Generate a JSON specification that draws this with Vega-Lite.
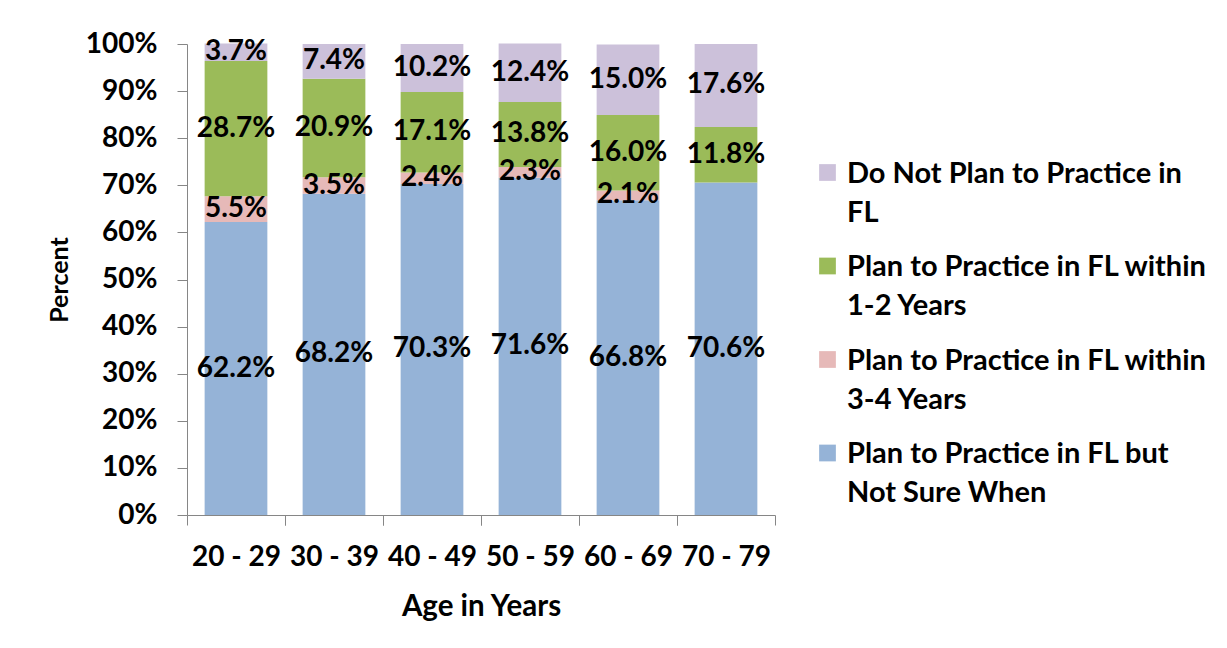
{
  "$schema": "https://vega.github.io/schema/vega-lite/v6.json",
  "autosize": {"type": "none"},
  "width": 588,
  "height": 471,
  "padding": {"left": 187, "top": 44, "right": 452, "bottom": 133},
  "background": "white",
  "data": {
    "values": [
      {"age": "20 - 29", "cat": "Plan to Practice in FL but Not Sure When", "pct": 62.2},
      {"age": "20 - 29", "cat": "Plan to Practice in FL within 3-4 Years", "pct": 5.5},
      {"age": "20 - 29", "cat": "Plan to Practice in FL within 1-2 Years", "pct": 28.7},
      {"age": "20 - 29", "cat": "Do Not Plan to Practice in FL", "pct": 3.7},
      {"age": "30 - 39", "cat": "Plan to Practice in FL but Not Sure When", "pct": 68.2},
      {"age": "30 - 39", "cat": "Plan to Practice in FL within 3-4 Years", "pct": 3.5},
      {"age": "30 - 39", "cat": "Plan to Practice in FL within 1-2 Years", "pct": 20.9},
      {"age": "30 - 39", "cat": "Do Not Plan to Practice in FL", "pct": 7.4},
      {"age": "40 - 49", "cat": "Plan to Practice in FL but Not Sure When", "pct": 70.3},
      {"age": "40 - 49", "cat": "Plan to Practice in FL within 3-4 Years", "pct": 2.4},
      {"age": "40 - 49", "cat": "Plan to Practice in FL within 1-2 Years", "pct": 17.1},
      {"age": "40 - 49", "cat": "Do Not Plan to Practice in FL", "pct": 10.2},
      {"age": "50 - 59", "cat": "Plan to Practice in FL but Not Sure When", "pct": 71.6},
      {"age": "50 - 59", "cat": "Plan to Practice in FL within 3-4 Years", "pct": 2.3},
      {"age": "50 - 59", "cat": "Plan to Practice in FL within 1-2 Years", "pct": 13.8},
      {"age": "50 - 59", "cat": "Do Not Plan to Practice in FL", "pct": 12.4},
      {"age": "60 - 69", "cat": "Plan to Practice in FL but Not Sure When", "pct": 66.8},
      {"age": "60 - 69", "cat": "Plan to Practice in FL within 3-4 Years", "pct": 2.1},
      {"age": "60 - 69", "cat": "Plan to Practice in FL within 1-2 Years", "pct": 16.0},
      {"age": "60 - 69", "cat": "Do Not Plan to Practice in FL", "pct": 15.0},
      {"age": "70 - 79", "cat": "Plan to Practice in FL but Not Sure When", "pct": 70.6},
      {"age": "70 - 79", "cat": "Plan to Practice in FL within 3-4 Years", "pct": 0},
      {"age": "70 - 79", "cat": "Plan to Practice in FL within 1-2 Years", "pct": 11.8},
      {"age": "70 - 79", "cat": "Do Not Plan to Practice in FL", "pct": 17.6}
    ]
  },
  "transform": [
    {"calculate": "indexof(['Plan to Practice in FL but Not Sure When', 'Plan to Practice in FL within 3-4 Years', 'Plan to Practice in FL within 1-2 Years', 'Do Not Plan to Practice in FL'], datum.cat)", "as": "k"},
    {"stack": "pct", "groupby": ["age"], "sort": [{"field": "k", "order": "ascending"}], "as": ["y0", "y1"]},
    {"calculate": "(datum.y0 + datum.y1) / 2", "as": "mid"},
    {"calculate": "format(datum.pct, '.1f') + '%'", "as": "lbl"}
  ],
  "layer": [
    {
      "mark": {"type": "bar"},
      "encoding": {
        "x": {
          "field": "age",
          "type": "nominal",
          "sort": null,
          "scale": {"paddingInner": 0.36, "paddingOuter": 0.18},
          "axis": {
            "orient": "bottom",
            "title": "Age in Years",
            "labelAngle": 0,
            "tickOffset": -49,
            "labelOffset": 49,
            "tickSize": 10,
            "tickColor": "#868686",
            "domainColor": "#868686",
            "labelPadding": 18,
            "labelFontSize": 28,
            "titleFontSize": 29.5,
            "titlePadding": 21
          }
        },
        "y": {
          "field": "y0",
          "type": "quantitative",
          "scale": {"domain": [0, 100], "nice": false},
          "axis": {
            "title": "Percent",
            "values": [0, 10, 20, 30, 40, 50, 60, 70, 80, 90, 100],
            "labelExpr": "datum.value + '%'",
            "grid": false,
            "tickSize": 10,
            "tickColor": "#868686",
            "domainColor": "#868686",
            "labelPadding": 20,
            "labelFontSize": 28,
            "titleFontSize": 25,
            "titlePadding": 13
          }
        },
        "y2": {"field": "y1"},
        "color": {
          "field": "cat",
          "type": "nominal",
          "scale": {
            "domain": ["Do Not Plan to Practice in FL", "Plan to Practice in FL within 1-2 Years", "Plan to Practice in FL within 3-4 Years", "Plan to Practice in FL but Not Sure When"],
            "range": ["#CCC1DA", "#9BBB59", "#E6B9B8", "#95B3D7"]
          },
          "legend": {
            "title": null,
            "orient": "none",
            "legendX": 626,
            "legendY": 114,
            "symbolType": "square",
            "symbolSize": 280,
            "symbolStrokeWidth": 0,
            "labelFontSize": 29,
            "labelOffset": 5,
            "labelLimit": 600,
            "labelBaseline": "alphabetic",
            "rowPadding": 23.5,
            "labelExpr": "datum.label == 'Do Not Plan to Practice in FL' ? ['Do Not Plan to Practice in', 'FL'] : datum.label == 'Plan to Practice in FL within 1-2 Years' ? ['Plan to Practice in FL within', '1-2 Years'] : datum.label == 'Plan to Practice in FL within 3-4 Years' ? ['Plan to Practice in FL within', '3-4 Years'] : ['Plan to Practice in FL but', 'Not Sure When']",
            "encode": {"labels": {"update": {"dy": {"value": 10}}}}
          }
        }
      }
    },
    {
      "transform": [{"filter": "datum.pct > 0"}],
      "mark": {"type": "text", "font": "Lato", "fontWeight": "bold", "fontSize": 28, "color": "black"},
      "encoding": {
        "x": {
          "field": "age",
          "type": "nominal",
          "sort": null,
          "axis": {
            "orient": "bottom",
            "title": null,
            "labels": false,
            "domain": false,
            "tickOffset": 49,
            "tickSize": 10,
            "tickColor": "#868686"
          }
        },
        "y": {"field": "mid", "type": "quantitative"},
        "text": {"field": "lbl"}
      }
    }
  ],
  "resolve": {"axis": {"x": "independent"}},
  "config": {
    "font": "Lato",
    "view": {"stroke": null},
    "axis": {
      "labelFont": "Lato",
      "labelFontWeight": "bold",
      "labelColor": "black",
      "titleFont": "Lato",
      "titleFontWeight": "bold",
      "titleColor": "black"
    },
    "legend": {
      "labelFont": "Lato",
      "labelFontWeight": "bold",
      "labelColor": "black"
    },
    "style": {"guide-label": {"lineHeight": 39}}
  }
}
